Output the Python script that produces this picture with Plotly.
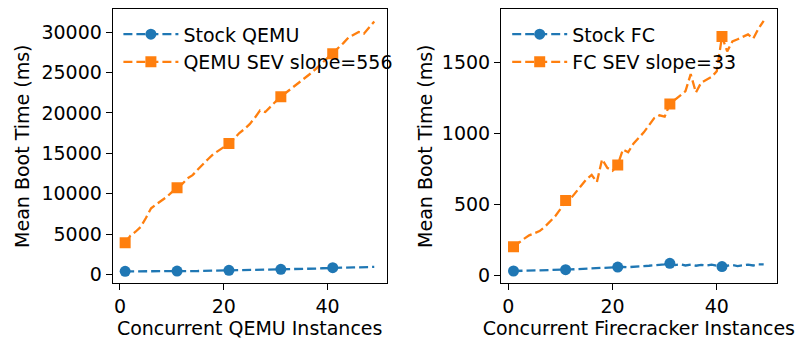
import plotly.graph_objects as go

x = list(range(1, 50))

qemu_stock = [400, 390, 410, 400, 420, 410, 400, 420, 430, 420,
              430, 440, 430, 450, 440, 460, 470, 460, 480, 500,
              520, 520, 540, 550, 560, 570, 580, 600, 610, 630,
              650, 660, 670, 690, 700, 720, 730, 750, 780, 810,
              850, 860, 870, 880, 890, 900, 920, 930, 950]

qemu_sev = [3950, 4800, 5300, 5900, 7000, 8200, 8700, 9100, 9600, 10200,
            10750, 11200, 11900, 12300, 13000, 13700, 14300, 14900, 15300, 15800,
            16200, 16800, 17500, 18000, 18600, 19400, 20300, 20100, 20800, 21400,
            22000, 22500, 23000, 23400, 24000, 24500, 25000, 25600, 26200, 26800,
            27300, 28000, 28600, 29300, 29700, 30000, 29800, 30600, 31300]

fc_stock = [34, 35, 35, 34, 36, 35, 37, 36, 37, 39,
            43, 45, 47, 49, 51, 53, 51, 55, 56, 58,
            62, 63, 61, 65, 67, 69, 71, 73, 77, 81,
            88, 76, 81, 73, 79, 71, 77, 73, 79, 71,
            65, 71, 76, 69, 76, 79, 73, 81, 80]

fc_sev = [205, 235, 260, 285, 300, 315, 345, 380, 420, 470,
          530, 545, 590, 640, 680, 710, 660, 820, 760, 740,
          780, 890, 870, 930, 970, 1010, 1060, 1110, 1130, 1120,
          1210, 1240, 1270, 1300, 1420, 1290, 1360, 1380, 1400, 1440,
          1685, 1580, 1650, 1665, 1680, 1700, 1670, 1740, 1795]

left_yticks = [0, 5000, 10000, 15000, 20000, 25000, 30000]
right_yticks = [0, 500, 1000, 1500]
xticks = [0, 20, 40]

marker_idx = [0, 10, 20, 30, 40]

BLUE = "#1f77b4"
ORANGE = "#ff7f0e"
FONT = "DejaVu Sans"
FS = 19

fig = go.Figure()

def add_series(xs, ys, name, color, symbol, xa, ya, legend):
    colors = [color if i in marker_idx else "rgba(0,0,0,0)" for i in range(len(xs))]
    fig.add_trace(go.Scatter(
        x=xs, y=ys, name=name, mode="lines+markers",
        line=dict(color=color, width=2.3, dash="9px,4px"),
        marker=dict(color=colors, symbol=symbol, size=11, opacity=1, line=dict(width=0)),
        xaxis=xa, yaxis=ya, legend=legend,
    ))

add_series(x, qemu_stock, "Stock QEMU", BLUE, "circle", "x", "y", "legend")
add_series(x, qemu_sev, "QEMU SEV slope=556", ORANGE, "square", "x", "y", "legend")
add_series(x, fc_stock, "Stock FC", BLUE, "circle", "x2", "y2", "legend2")
add_series(x, fc_sev, "FC SEV slope=33", ORANGE, "square", "x2", "y2", "legend2")

axis_common = dict(
    showgrid=False, zeroline=False, showline=True, linecolor="black", linewidth=1,
    mirror=True, ticks="outside", ticklen=6, tickwidth=1, tickcolor="black",
    tickfont=dict(family=FONT, size=FS, color="black"),
)

ydom = [1 - 286 / 343, 1 - 9 / 343]

fig.update_layout(
    width=800, height=343,
    margin=dict(l=0, r=0, t=0, b=0),
    paper_bgcolor="white", plot_bgcolor="white",
    font=dict(family=FONT, size=FS, color="black"),
    xaxis=dict(domain=[112.7 / 800, 386.7 / 800], range=[-1.4, 51.4],
               tickvals=xticks, ticktext=[str(v) for v in xticks], anchor="y",
               title=dict(text="Concurrent QEMU Instances", font=dict(size=FS), standoff=0),
               **axis_common),
    yaxis=dict(domain=ydom, range=[-1103, 32857], anchor="x",
               tickvals=left_yticks, ticktext=[str(v) for v in left_yticks],
               title=dict(text="Mean Boot Time (ms)", font=dict(size=FS), standoff=6),
               **axis_common),
    xaxis2=dict(domain=[501 / 800, 776.7 / 800], range=[-1.4, 51.5],
                tickvals=xticks, ticktext=[str(v) for v in xticks], anchor="y2",
                title=dict(text="Concurrent Firecracker Instances", font=dict(size=FS), standoff=0),
                **axis_common),
    yaxis2=dict(domain=ydom, range=[-54, 1879], anchor="x2",
                tickvals=right_yticks, ticktext=[str(v) for v in right_yticks],
                title=dict(text="Mean Boot Time (ms)", font=dict(size=FS), standoff=4),
                **axis_common),
    legend=dict(x=0.148, y=0.955, xanchor="left", yanchor="top",
                bgcolor="rgba(0,0,0,0)", borderwidth=0,
                font=dict(family=FONT, size=FS), tracegroupgap=0, itemwidth=55),
    legend2=dict(x=0.634, y=0.955, xanchor="left", yanchor="top",
                 bgcolor="rgba(0,0,0,0)", borderwidth=0,
                 font=dict(family=FONT, size=FS), tracegroupgap=0, itemwidth=55),
    showlegend=True,
)

fig.write_html("out.html")
